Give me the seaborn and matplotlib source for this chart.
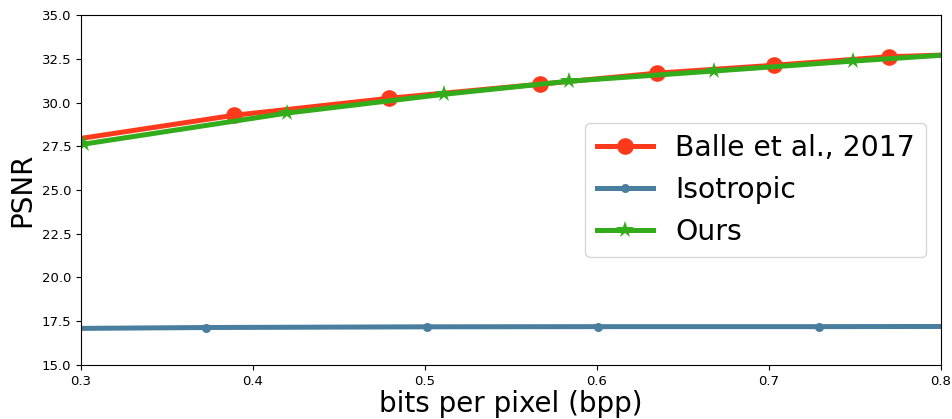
import matplotlib
matplotlib.use("Agg")
import matplotlib.pyplot as plt
import seaborn as sns
import pandas as pd

# Balle et al., 2017 (first and last points are line ends, markers in between)
balle_bpp = [0.300, 0.389, 0.479, 0.567, 0.635, 0.703, 0.770, 0.800]
balle_psnr = [27.95, 29.27, 30.24, 31.05, 31.68, 32.13, 32.62, 32.71]

# Isotropic
iso_bpp = [0.300, 0.373, 0.501, 0.601, 0.729, 0.800]
iso_psnr = [17.09, 17.14, 17.18, 17.19, 17.19, 17.20]

# Ours
ours_bpp = [0.302, 0.420, 0.511, 0.584, 0.668, 0.749, 0.800]
ours_psnr = [27.63, 29.40, 30.47, 31.22, 31.80, 32.37, 32.70]

plt.rcParams['font.family'] = ['DejaVu Sans']
fig, ax = plt.subplots(figsize=(9.52, 4.19), dpi=100)
fig.subplots_adjust(left=0.085, right=0.988, top=0.964, bottom=0.129)

df_b = pd.DataFrame({"bpp": balle_bpp, "psnr": balle_psnr})
df_i = pd.DataFrame({"bpp": iso_bpp, "psnr": iso_psnr})
df_o = pd.DataFrame({"bpp": ours_bpp, "psnr": ours_psnr})

sns.lineplot(data=df_b, x="bpp", y="psnr", ax=ax, color="#ff3a1c", lw=3.6,
             marker="o", markersize=12, markeredgewidth=0,
             markevery=list(range(1, len(balle_bpp) - 1)),
             label="Balle et al., 2017", estimator=None, sort=False)
sns.lineplot(data=df_i, x="bpp", y="psnr", ax=ax, color="#4a7e9f", lw=3.6,
             marker="o", markersize=6.5, markeredgewidth=0,
             markevery=list(range(1, len(iso_bpp) - 1)),
             label="Isotropic", estimator=None, sort=False)
sns.lineplot(data=df_o, x="bpp", y="psnr", ax=ax, color="#33ac1c", lw=3.6,
             marker="*", markersize=13, markeredgewidth=0,
             markevery=list(range(0, len(ours_bpp) - 1)),
             label="Ours", estimator=None, sort=False)

ax.set_xlim(0.3, 0.8)
ax.set_ylim(15, 35)
ax.set_xticks([0.3, 0.4, 0.5, 0.6, 0.7, 0.8])
ax.set_yticks([15.0, 17.5, 20.0, 22.5, 25.0, 27.5, 30.0, 32.5, 35.0])
ax.set_xticklabels(["0.3", "0.4", "0.5", "0.6", "0.7", "0.8"])
ax.set_yticklabels(["15.0", "17.5", "20.0", "22.5", "25.0", "27.5", "30.0", "32.5", "35.0"])
ax.tick_params(labelsize=9.5)
ax.set_xlabel("bits per pixel (bpp)", fontsize=20, labelpad=2)
ax.set_ylabel("PSNR", fontsize=20)
ax.legend(loc="center right", fontsize=20.3)

fig.savefig("out.png", dpi=100)
